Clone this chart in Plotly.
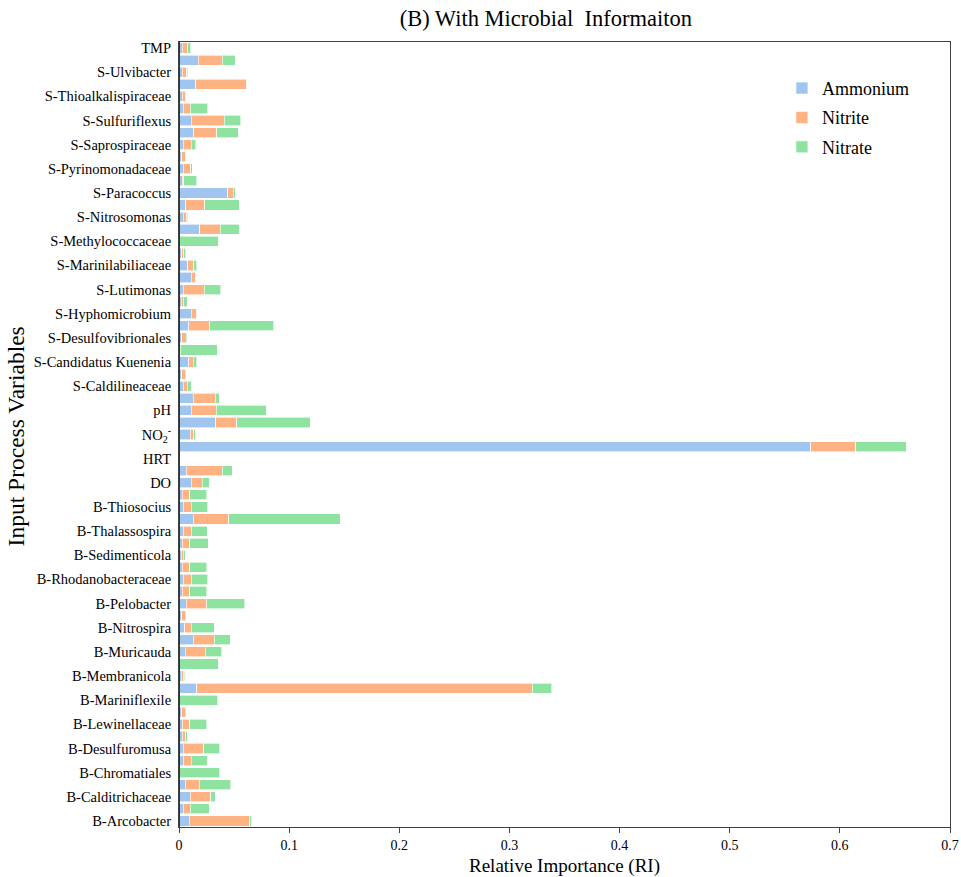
import plotly.graph_objects as go

# Categories listed top to bottom as drawn; every second row carries no visible label
categories = [
    "TMP", "row-64", "S-Ulvibacter", "row-62", "S-Thioalkalispiraceae", "row-60",
    "S-Sulfuriflexus", "row-58", "S-Saprospiraceae", "row-56", "S-Pyrinomonadaceae", "row-54",
    "S-Paracoccus", "row-52", "S-Nitrosomonas", "row-50", "S-Methylococcaceae", "row-48",
    "S-Marinilabiliaceae", "row-46", "S-Lutimonas", "row-44", "S-Hyphomicrobium", "row-42",
    "S-Desulfovibrionales", "row-40", "S-Candidatus Kuenenia", "row-38", "S-Caldilineaceae", "row-36",
    "pH", "row-34", "NO2-", "row-32", "HRT", "row-30", "DO", "row-28",
    "B-Thiosocius", "row-26", "B-Thalassospira", "row-24", "B-Sedimenticola", "row-22",
    "B-Rhodanobacteraceae", "row-20", "B-Pelobacter", "row-18", "B-Nitrospira", "row-16",
    "B-Muricauda", "row-14", "B-Membranicola", "row-12", "B-Mariniflexile", "row-10",
    "B-Lewinellaceae", "row-08", "B-Desulfuromusa", "row-06", "B-Chromatiales", "row-04",
    "B-Calditrichaceae", "row-02", "B-Arcobacter",
]

ammonium = [
    0.003, 0.0176, 0.003, 0.015, 0.003, 0.004,
    0.011, 0.0136, 0.004, 0.0024, 0.004, 0.003,
    0.0442, 0.006, 0.004, 0.0188, 0.0005, 0.0024,
    0.008, 0.011, 0.004, 0.002, 0.011, 0.009,
    0.0024, 0.0003, 0.009, 0.0024, 0.004, 0.013,
    0.011, 0.0333, 0.010, 0.5736, 0.0, 0.0064, 0.011, 0.003,
    0.004, 0.013, 0.004, 0.003, 0.002, 0.003,
    0.004, 0.003, 0.0064, 0.0024, 0.005, 0.013,
    0.0058, 0.0005, 0.002, 0.016, 0.0005, 0.0024,
    0.003, 0.003, 0.004, 0.004, 0.0005, 0.0058,
    0.010, 0.004, 0.0094,
]
nitrite = [
    0.005, 0.0218, 0.004, 0.046, 0.003, 0.006,
    0.030, 0.0206, 0.007, 0.0036, 0.0067, 0.0015,
    0.005, 0.0176, 0.003, 0.0185, 0.0003, 0.002,
    0.0055, 0.0036, 0.0188, 0.002, 0.005, 0.0188,
    0.004, 0.001, 0.004, 0.0033, 0.0033, 0.020,
    0.023, 0.019, 0.0036, 0.041, 0.0, 0.033, 0.010, 0.0067,
    0.007, 0.032, 0.007, 0.0067, 0.002, 0.0067,
    0.007, 0.0067, 0.019, 0.0033, 0.006, 0.019,
    0.018, 0.0, 0.0024, 0.3046, 0.0, 0.0033,
    0.0067, 0.0033, 0.0185, 0.007, 0.0, 0.0124,
    0.0188, 0.006, 0.055,
]
nitrate = [
    0.0025, 0.0118, 0.001, 0.0006, 0.0005, 0.016,
    0.015, 0.0197, 0.004, 0.0006, 0.0015, 0.0115,
    0.002, 0.031, 0.001, 0.0173, 0.035, 0.0015,
    0.0024, 0.0006, 0.015, 0.0033, 0.0006, 0.058,
    0.0012, 0.0336, 0.003, 0.001, 0.004, 0.0036,
    0.045, 0.0667, 0.0012, 0.0455, 0.0007, 0.0088, 0.0064, 0.0155,
    0.015, 0.1015, 0.0145, 0.0167, 0.0015, 0.0155,
    0.015, 0.0155, 0.0345, 0.001, 0.021, 0.0145,
    0.015, 0.035, 0.001, 0.018, 0.0345, 0.001,
    0.0155, 0.001, 0.0145, 0.0145, 0.0364, 0.029,
    0.004, 0.0173, 0.001,
]

x_ticks = [0, 0.1, 0.2, 0.3, 0.4, 0.5, 0.6, 0.7]
x_tick_labels = ["0", "0.1", "0.2", "0.3", "0.4", "0.5", "0.6", "0.7"]

labelled = [c for c in categories if not c.startswith("row-")]
label_text = ["NO<sub>2</sub><sup>-</sup>" if c == "NO2-" else c for c in labelled]

series = [
    ("Ammonium", ammonium, "#A0C6F0"),
    ("Nitrite", nitrite, "#FFB282"),
    ("Nitrate", nitrate, "#8EE3A1"),
]

FONT = "Liberation Serif, Times New Roman, serif"

fig = go.Figure()
for name, vals, col in series:
    fig.add_trace(go.Bar(
        y=categories, x=vals, name=name, orientation="h", legendgroup=name,
        marker=dict(color=col, line=dict(color="white", width=0.6)),
    ))

fig.update_layout(
    width=961, height=877,
    barmode="stack", bargap=0.16,
    paper_bgcolor="white", plot_bgcolor="white",
    margin=dict(l=179, r=11, t=42, b=50, autoexpand=False),
    font=dict(family=FONT, size=14.5, color="#000000"),
    title=dict(text="(B) With Microbial  Informaiton", x=0.568, xanchor="center",
               y=0.979, yanchor="middle", yref="container",
               font=dict(family=FONT, size=22.5)),
    legend=dict(x=0.782, y=0.9645, xanchor="left", yanchor="top",
                traceorder="grouped", font=dict(family=FONT, size=18),
                itemwidth=30, tracegroupgap=3, bgcolor="rgba(0,0,0,0)"),
    showlegend=True,
)
fig.update_xaxes(
    range=[0, 0.7], tickmode="array", tickvals=x_ticks, ticktext=x_tick_labels,
    showgrid=False, zeroline=False, automargin=False,
    showline=True, linecolor="#404040", linewidth=1, mirror=True,
    ticks="outside", ticklen=5, tickcolor="#404040",
    tickfont=dict(family=FONT, size=14),
    title=dict(text="Relative Importance (RI)", font=dict(family=FONT, size=19), standoff=6),
)
fig.update_yaxes(
    type="category", categoryorder="array", categoryarray=categories,
    range=[len(categories) - 0.5, -0.5], automargin=False,
    tickmode="array", tickvals=labelled, ticktext=label_text,
    showgrid=False, zeroline=False,
    showline=True, linecolor="#404040", linewidth=1, mirror=True,
    ticks="", ticklabelstandoff=4, tickfont=dict(family=FONT, size=14.5),
)
# Darker left axis line
fig.add_shape(type="line", xref="x", yref="paper", x0=0, x1=0, y0=0, y1=1,
              line=dict(color="#333333", width=2))
fig.add_annotation(text="Input Process Variables", textangle=-90,
                   xref="paper", yref="paper", x=-0.212, y=0.497,
                   xanchor="center", yanchor="middle", showarrow=False,
                   font=dict(family=FONT, size=23.5))

fig.write_html("out.html", config={"displayModeBar": False},
               post_script="document.body.style.margin='0px';")
